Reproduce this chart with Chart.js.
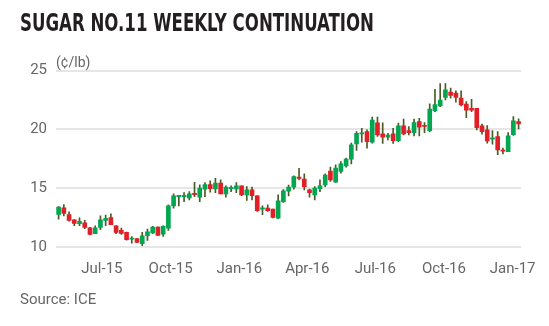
<!DOCTYPE html>
<html>
<head>
<meta charset="utf-8">
<script src="https://cdn.jsdelivr.net/npm/chart.js@4.4.1/dist/chart.umd.min.js"></script>
<style>
  html, body { margin: 0; padding: 0; background: #ffffff; }
  #wrap { position: relative; width: 549px; height: 326px; overflow: hidden; }
  #chartBox { position: absolute; left: 0; top: 0; width: 549px; height: 326px; }
  .txt { position: absolute; white-space: nowrap; }
  #title { left: 20px; top: 11px; font-family: "Liberation Sans Narrow", "DejaVu Sans Condensed", Roboto, sans-serif;
           font-weight: bold; font-size: 24px; line-height: 24px; color: #231f20; transform-origin: 0 0; }
  #unit { left: 56px; top: 54px; font-family: Roboto, sans-serif; font-size: 14px; line-height: 16px; color: #666666; }
  #source { left: 20px; top: 290px; font-family: Roboto, sans-serif; font-size: 15px; line-height: 18px; color: #666666; }
</style>
</head>
<body>
<div id="wrap">
  <div id="chartBox"><canvas id="c"></canvas></div>
  <div class="txt" id="title">SUGAR NO.11 WEEKLY CONTINUATION</div>
  <div class="txt" id="unit">(¢/lb)</div>
  <div class="txt" id="source">Source: ICE</div>
</div>
<script>
// Weekly candles, first week beginning Monday 4 May 2015 (US cents per pound)
const firstWeek = '2015-05-04';

const openPrices = [
  12.78, 13.35, 12.78, 12.33, 12.00, 12.08, 11.66, 11.15, 11.68, 12.28,
  12.53, 11.83, 11.43, 11.26, 10.68, 10.73, 10.30, 10.98, 11.21, 11.72,
  11.12, 11.63, 13.52, 14.30, 14.30, 14.20, 14.52, 14.26, 14.93, 15.32,
  14.96, 15.44, 14.53, 14.98, 14.96, 15.21, 14.45, 14.87, 14.37, 13.24,
  13.32, 13.24, 12.48, 13.88, 14.76, 15.10, 15.90, 15.78, 14.87, 14.45,
  14.98, 15.30, 16.46, 15.53, 16.43, 16.91, 17.48, 18.78, 19.62, 19.82,
  18.92, 20.57, 19.62, 19.34, 19.62, 19.05, 20.30, 19.90, 19.73, 20.67,
  20.30, 19.90, 21.60, 21.99, 22.71, 23.17, 23.08, 22.66, 22.15, 21.78,
  21.78, 20.30, 19.96, 19.18, 19.40, 18.20, 18.12, 19.56, 20.67
];
const highPrices = [
  13.45, 13.63, 13.00, 12.35, 12.50, 12.28, 11.70, 11.83, 12.67, 12.73,
  12.84, 11.85, 11.63, 11.30, 10.92, 10.75, 11.26, 11.55, 11.77, 11.74,
  11.83, 13.60, 14.54, 14.37, 14.65, 14.73, 15.52, 15.30, 15.49, 15.63,
  15.86, 15.72, 15.21, 15.21, 15.49, 15.22, 15.15, 15.10, 14.38, 13.52,
  13.60, 13.25, 14.45, 14.90, 15.27, 16.06, 16.71, 16.23, 14.93, 15.15,
  15.72, 16.23, 16.80, 17.00, 17.28, 17.57, 18.84, 19.82, 20.10, 19.96,
  21.05, 21.05, 20.57, 19.68, 20.10, 20.53, 20.87, 20.25, 20.87, 20.95,
  20.59, 22.17, 23.40, 23.90, 23.90, 23.50, 23.28, 23.28, 22.37, 22.56,
  21.80, 20.45, 20.33, 19.90, 19.82, 18.42, 19.73, 21.10, 20.90
];
const lowPrices = [
  12.39, 12.67, 12.22, 11.83, 11.83, 11.57, 11.05, 11.15, 11.49, 11.83,
  11.91, 11.15, 11.09, 10.60, 10.36, 10.40, 10.14, 10.58, 11.15, 11.00,
  10.92, 11.43, 13.32, 13.52, 13.88, 14.03, 14.30, 13.88, 14.30, 14.68,
  14.64, 14.53, 14.26, 14.73, 14.64, 14.37, 13.97, 14.03, 13.04, 12.76,
  13.04, 12.50, 12.42, 13.80, 14.36, 14.93, 15.72, 14.87, 14.25, 14.02,
  14.73, 15.15, 15.58, 15.50, 16.29, 16.80, 17.08, 18.21, 18.92, 18.41,
  18.83, 19.40, 18.82, 19.12, 18.82, 18.97, 19.53, 19.53, 19.45, 19.45,
  19.73, 19.82, 21.50, 21.93, 22.50, 22.65, 22.31, 22.00, 21.00, 21.50,
  19.96, 19.60, 18.83, 18.75, 17.86, 17.93, 18.12, 19.50, 20.05
];
const closePrices = [
  13.41, 12.87, 12.28, 12.02, 12.20, 11.68, 11.09, 11.66, 12.33, 12.45,
  11.91, 11.26, 11.17, 10.64, 10.74, 10.41, 10.98, 11.32, 11.72, 11.00,
  11.77, 13.52, 14.37, 14.35, 14.40, 14.54, 14.47, 15.02, 15.32, 14.98,
  15.44, 14.53, 15.10, 15.02, 15.21, 14.45, 14.87, 14.37, 13.10, 13.27,
  13.10, 12.53, 13.94, 14.80, 15.10, 16.00, 15.85, 15.15, 14.64, 15.02,
  15.21, 16.12, 15.72, 16.72, 17.08, 17.48, 18.69, 19.68, 19.68, 18.97,
  20.80, 19.53, 19.34, 19.53, 19.05, 20.30, 19.62, 19.73, 20.59, 20.20,
  20.25, 21.72, 22.10, 22.50, 23.36, 22.88, 22.71, 22.09, 21.64, 21.64,
  20.14, 19.82, 19.03, 19.22, 18.27, 18.15, 19.45, 20.72, 20.47
];

// Quarter labels on the date axis
const quarterDates = ['2015-07-01', '2015-10-01', '2016-01-01', '2016-04-01', '2016-07-01', '2016-10-01', '2017-01-01'];
const quarterLabels = ['Jul-15', 'Oct-15', 'Jan-16', 'Apr-16', 'Jul-16', 'Oct-16', 'Jan-17'];

const UP = '#00a650', DOWN = '#e21e26', WICK = '#4b5a24';
const DAY = 86400000;
const t0 = Date.parse(firstWeek);
const weeks = openPrices.map((_, i) => new Date(t0 + i * 7 * DAY).toISOString().slice(0, 10));
const quarterPos = quarterDates.map(d => (Date.parse(d) - t0) / (7 * DAY));
const n = weeks.length;

const bodies = openPrices.map((o, i) => [o, closePrices[i]]);
const bodyColors = openPrices.map((o, i) => (closePrices[i] >= o ? UP : DOWN));
const wicks = lowPrices.map((l, i) => [l, highPrices[i]]);

new Chart(document.getElementById('c'), {
  type: 'bar',
  data: {
    labels: weeks,
    datasets: [
      { label: 'body', data: bodies, backgroundColor: bodyColors, barThickness: 4, minBarLength: 1.2, grouped: false, xAxisID: 'x', yAxisID: 'y' },
      { label: 'range', data: wicks, backgroundColor: WICK, barThickness: 1, grouped: false, xAxisID: 'x', yAxisID: 'y' }
    ]
  },
  options: {
    responsive: true,
    maintainAspectRatio: false,
    animation: false,
    layout: { padding: { top: 70.5, right: 25.4, bottom: 48.7, left: 0 } },
    plugins: { legend: { display: false }, tooltip: { enabled: false } },
    scales: {
      x: { type: 'category', display: false, offset: true },
      xq: {
        type: 'linear', position: 'bottom', min: -0.5, max: n - 0.5, offset: false,
        afterBuildTicks: s => { s.ticks = quarterPos.map(v => ({ value: v })); },
        afterFit: s => { s.height = 30; },
        grid: { display: false, drawTicks: false, offset: false },
        border: { display: false },
        ticks: {
          autoSkip: false, maxRotation: 0, padding: 13,
          color: '#666666', font: { family: 'Roboto', size: 15 },
          callback: (v, idx) => quarterLabels[idx]
        }
      },
      y: {
        min: 10, max: 25,
        afterFit: s => { s.width = 56; },
        grid: { color: '#e6e6e6', lineWidth: 2, drawTicks: false },
        border: { display: false },
        ticks: { stepSize: 5, padding: 9, color: '#666666', font: { family: 'Roboto', size: 15 } }
      }
    }
  }
});

// Fit the headline to its column width
const title = document.getElementById('title');
const w = title.getBoundingClientRect().width;
title.style.transform = 'scaleX(' + (354 / w) + ')';
</script>
</body>
</html>
